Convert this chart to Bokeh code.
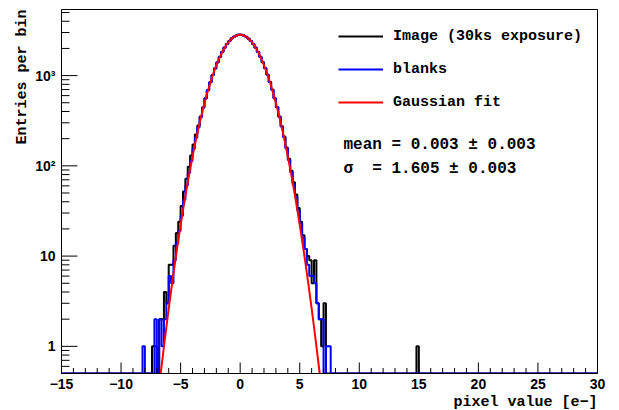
import numpy as np
from bokeh.plotting import figure
from bokeh.models import Range1d, FixedTicker, SingleIntervalTicker, Legend, LegendItem, Label, Title
from bokeh.embed import file_html
from bokeh.resources import INLINE

# ---------------- data ----------------
x_start, x_end = -15, 30
y_start, y_end = 0.5, 5400
bin_width = 0.2
first_edge = -8.4          # left edge of the first listed bin

# Image (30ks exposure) histogram, bins from -8.4 upward (width 0.2)
image_counts = [
    0, 0, 0, 0, 0, 1, 1, 0, 2, 2,
    4, 3, 8, 8, 13, 18, 24, 36, 52, 72,
    98, 130, 172, 222, 280, 352, 445, 560, 690, 845,
    1015, 1200, 1400, 1612, 1830, 2035, 2240, 2420, 2575, 2690,
    2780, 2835,
    2830, 2775, 2690, 2565, 2410, 2230, 2035, 1825, 1612, 1405,
    1205, 1020, 848, 695, 562, 448, 352, 275, 212, 160,
    120, 88, 66, 48, 34, 24, 17,
    12, 10, 9, 5, 9, 3, 2, 1, 3, 0, 0, 0,
]
# isolated image bin far in the tail
image_isolated_edges = [14.8]
image_isolated_counts = [1]

# blanks histogram, same bins
blank_counts = [
    0, 1, 0, 0, 0, 0, 2, 0, 2, 1,
    2, 3, 6, 5, 9, 14, 19, 28, 42, 60,
    84, 113, 155, 205, 268, 345, 440, 556, 692, 842,
    1018, 1205, 1410, 1620, 1835, 2045, 2245, 2425, 2585, 2705,
    2790, 2850,
    2840, 2790, 2700, 2580, 2425, 2245, 2045, 1835, 1620, 1410,
    1210, 1022, 850, 695, 560, 446, 350, 272, 208, 156,
    116, 85, 62, 45, 32, 23, 16,
    12, 8, 6, 6, 5, 3, 2, 2, 0, 1, 1, 0,
]

# Gaussian fit parameters
fit_mean, fit_mean_err = 0.003, 0.003
fit_sigma, fit_sigma_err = 1.605, 0.003
fit_amplitude = 2830.0

legend_labels = ["Image (30ks exposure)", "blanks", "Gaussian fit"]
x_tick_step = 5
y_major_ticks = [1, 10, 100, 1000]
y_tick_text = {1: "1", 10: "10", 100: "10\u00b2", 1000: "10\u00b3"}
x_tick_text = {-15: "\u221215", -10: "\u221210", -5: "\u22125"}
x_title = "pixel value [e\u2212]"
y_title = "Entries per bin"

# ---------------- helpers ----------------
n_bins = int(round((x_end - x_start) / bin_width))
grid_lo = x_start + bin_width * np.arange(n_bins)


def full_counts(lo_edge, counts, extra_edges=(), extra_counts=()):
    full = np.zeros(n_bins)
    off = int(round((lo_edge - x_start) / bin_width))
    full[off:off + len(counts)] = counts
    for e, c in zip(extra_edges, extra_counts):
        full[int(round((e - x_start) / bin_width))] = c
    return full


def step_path(counts):
    xs, ys = [], []
    for lo, c in zip(grid_lo, counts):
        y = c if c > 0 else y_start
        xs += [lo, lo + bin_width]
        ys += [y, y]
    return xs, ys


img_x, img_y = step_path(full_counts(first_edge, image_counts,
                                     image_isolated_edges, image_isolated_counts))
blk_x, blk_y = step_path(full_counts(first_edge, blank_counts))

fx = np.linspace(-8, 8, 801)
fy = fit_amplitude * np.exp(-(fx - fit_mean) ** 2 / (2 * fit_sigma ** 2))

# ---------------- figure ----------------
W, H = 619, 410
BL, BR, BT, BB = 61, 22, 9, 37
FW, FH = W - BL - BR, H - BT - BB

p = figure(width=W, height=H, y_axis_type="log",
           x_range=Range1d(x_start, x_end), y_range=Range1d(y_start, y_end),
           output_backend="svg", toolbar_location=None,
           min_border_left=BL, min_border_right=BR,
           min_border_top=BT, min_border_bottom=BB)
p.background_fill_color = "white"
p.border_fill_color = "white"
p.outline_line_color = "black"
p.outline_line_width = 1
p.xgrid.visible = False
p.ygrid.visible = False

mono = "Liberation Mono"
sans = "Liberation Sans"

r_img = p.line(img_x, img_y, line_color="black", line_width=2)
r_blk = p.line(blk_x, blk_y, line_color="#0000ff", line_width=2)
r_fit = p.line(fx, fy, line_color="#ff0000", line_width=2)

# ---- tick marks drawn inside the frame (ROOT style) ----
x_per_px = (x_end - x_start) / FW
dec_per_px = np.log10(y_end / y_start) / FH
x_major = list(range(x_start, x_end + 1, x_tick_step))
x_minor = [v for v in range(x_start, x_end + 1) if v % x_tick_step]
y_minor = [m * 10.0 ** k for k in range(-1, 4) for m in range(2, 10)
           if y_start <= m * 10.0 ** k <= y_end]


def xticks(vals, length):
    top = y_start * 10 ** (length * dec_per_px)
    p.segment(x0=vals, y0=[y_start] * len(vals), x1=vals, y1=[top] * len(vals),
              line_color="black", line_width=1)


def yticks(vals, length):
    right = x_start + length * x_per_px
    p.segment(x0=[x_start] * len(vals), y0=vals, x1=[right] * len(vals), y1=vals,
              line_color="black", line_width=1)


xticks(x_major, 11)
xticks(x_minor, 5.5)
yticks(y_major_ticks, 16)
yticks(y_minor, 8)

# axes
xa = p.xaxis[0]
xa.ticker = SingleIntervalTicker(interval=x_tick_step, num_minor_ticks=5)
for a in (xa, p.yaxis[0]):
    a.major_tick_in = 0
    a.major_tick_out = 0
    a.minor_tick_in = 0
    a.minor_tick_out = 0
    a.major_label_text_font = sans
    a.major_label_text_font_style = "bold"
    a.major_label_text_font_size = "14px"
    a.major_label_text_color = "black"
    a.axis_line_color = "black"
xa.major_label_standoff = 5
xa.major_label_overrides = x_tick_text

ya = p.yaxis[0]
ya.ticker = FixedTicker(ticks=y_major_ticks, minor_ticks=y_minor)
ya.major_label_standoff = 6
ya.major_label_overrides = y_tick_text

# axis titles (ROOT style: aligned to the axis end)
p.add_layout(Title(text=x_title, align="right", standoff=0, offset=0,
                   text_font=mono, text_font_style="bold", text_font_size="15px",
                   text_color="black"), "below")
p.add_layout(Title(text=y_title, align="right", standoff=3, offset=0,
                   text_font=mono, text_font_style="bold", text_font_size="15px",
                   text_color="black"), "left")

# legend
legend = Legend(items=[LegendItem(label=legend_labels[0], renderers=[r_img]),
                       LegendItem(label=legend_labels[1], renderers=[r_blk]),
                       LegendItem(label=legend_labels[2], renderers=[r_fit])],
                location=(277, FH - 103), padding=0, margin=0, spacing=13,
                glyph_width=45, glyph_height=20, label_height=20, label_standoff=10,
                label_text_font=mono, label_text_font_style="bold",
                label_text_font_size="15px", label_text_color="black",
                border_line_alpha=0, background_fill_alpha=0)
p.add_layout(legend)

nb = "\u00a0"
stat_lines = [f"mean{nb}={nb}{fit_mean:.3f}{nb}\u00b1{nb}{fit_mean_err:.3f}",
              f"\u03c3{nb}{nb}={nb}{fit_sigma:.3f}{nb}\u00b1{nb}{fit_sigma_err:.3f}"]
for i, t in enumerate(stat_lines):
    p.add_layout(Label(x=282, y=FH - 135 - 24 * i, x_units="screen", y_units="screen",
                       text=t, text_align="left", text_baseline="middle",
                       text_font=mono, text_font_style="bold", text_font_size="16px",
                       text_color="black"))

open("out.html", "w").write(file_html(p, INLINE))
